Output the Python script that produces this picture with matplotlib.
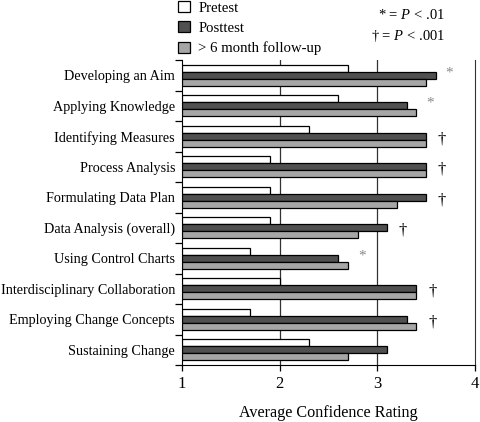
import matplotlib
matplotlib.use("Agg")
import matplotlib.pyplot as plt
import numpy as np
from matplotlib.patches import Patch

categories = ["Developing an Aim", "Applying Knowledge", "Identifying Measures",
              "Process Analysis", "Formulating Data Plan", "Data Analysis (overall)",
              "Using Control Charts", "Interdisciplinary Collaboration",
              "Employing Change Concepts", "Sustaining Change"]
pretest = [2.7, 2.6, 2.3, 1.9, 1.9, 1.9, 1.7, 2.0, 1.7, 2.3]
posttest = [3.6, 3.3, 3.5, 3.5, 3.5, 3.1, 2.6, 3.4, 3.3, 3.1]
followup = [3.5, 3.4, 3.5, 3.5, 3.2, 2.8, 2.7, 3.4, 3.4, 2.7]
marks = ["*", "*", "†", "†", "†", "†", "*", "†", "†", ""]
series_labels = ["Pretest", "Posttest", "> 6 month follow-up"]

plt.rcParams['font.family'] = ['Liberation Serif', 'DejaVu Serif']
plt.rcParams['mathtext.fontset'] = 'custom'
plt.rcParams['mathtext.rm'] = 'Liberation Serif'
plt.rcParams['mathtext.it'] = 'Liberation Serif:italic'

fig = plt.figure(figsize=(4.8, 4.22), dpi=100)
ax = fig.add_axes([182/480, 1-365/422, (475-182)/480, (365-60)/422])

y = np.arange(len(categories))
h = 0.23
cols = ["white", "#505050", "#a6a6a6"]
for k, (vals, c) in enumerate(zip([pretest, posttest, followup], cols)):
    ax.barh(y + (k-1)*h, np.array(vals) - 1, left=1, height=h, color=c,
            edgecolor="black", linewidth=0.9, zorder=3)

for i, m in enumerate(marks):
    if not m:
        continue
    mx = max(posttest[i], followup[i])
    if m == "*":
        ax.text(mx + 0.1, y[i] - 0.08, m, color="#888888", fontsize=11,
                ha="left", va="center", zorder=4)
    else:
        ax.text(mx + 0.12, y[i] + 0.1, m, color="black", fontsize=12,
                ha="left", va="center", zorder=4)

ax.set_xlim(1, 4)
ax.set_ylim(len(categories) - 0.5, -0.5)
ax.set_xticks([1, 2, 3, 4])
ax.set_yticks(y)
ax.set_yticklabels(categories, fontsize=10.2)
ax.set_yticks(np.arange(len(categories) + 1) - 0.5, minor=True)
ax.tick_params(axis="y", which="major", length=0, pad=5)
ax.tick_params(axis="y", which="minor", length=5, direction="out", width=0.9)
ax.tick_params(axis="x", length=4, direction="out", labelsize=12, pad=4, width=0.9)
for x in [2, 3]:
    ax.axvline(x, color="#333333", linewidth=0.9, zorder=1)
ax.spines["top"].set_visible(False)
ax.spines["right"].set_color("#333333")
ax.set_xlabel("Average Confidence Rating", fontsize=11.6, labelpad=9)

handles = [Patch(facecolor=c, edgecolor="black", linewidth=0.9) for c in cols]
fig.legend(handles, series_labels, loc="upper left", bbox_to_anchor=(172/480, 1.012),
           frameon=False, fontsize=10.6, handlelength=0.8, handleheight=0.8,
           handletextpad=0.6, labelspacing=0.45, borderaxespad=0)

fig.text(445/480, 1-15/422, "* = $\\it{P}$ < .01", ha="right", va="center", fontsize=10.5)
fig.text(445/480, 1-36/422, "† = $\\it{P}$ < .001", ha="right", va="center", fontsize=10.5)

fig.savefig("out.png", dpi=100)
